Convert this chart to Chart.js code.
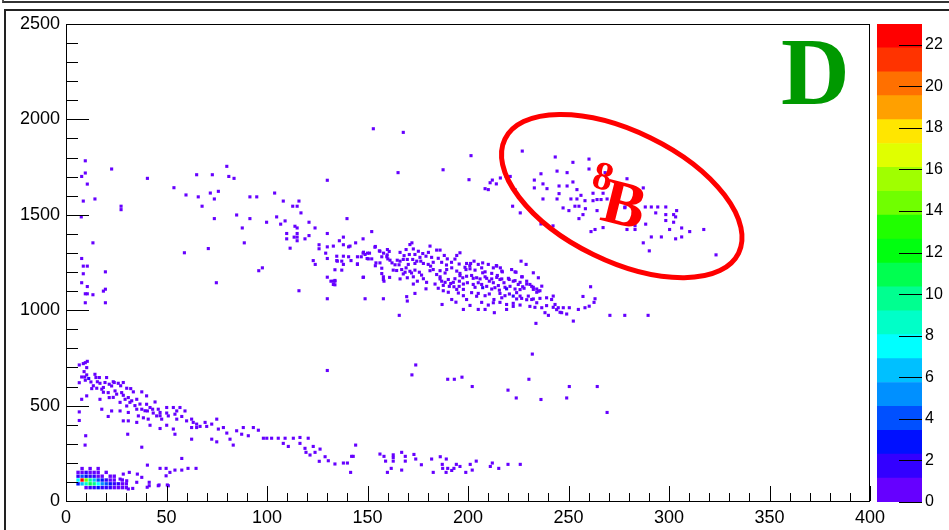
<!DOCTYPE html>
<html>
<head>
<meta charset="utf-8">
<script src="https://cdn.jsdelivr.net/npm/chart.js@4.4.0/dist/chart.umd.min.js"></script>
<style>
html, body { margin: 0; padding: 0; background: #fff; }
#wrap { position: relative; width: 949px; height: 530px; overflow: hidden; background: #fff; }
#topbar { position: absolute; left: 2px; top: -2px; width: 960px; height: 3px; border-left: 2px solid #555; border-bottom: 2px solid #333; }
#frame { position: absolute; left: 4px; top: 9px; width: 960px; height: 540px; border: 2px solid #222; }
#main { position: absolute; left: 0; top: 0; }
#pal { position: absolute; left: 870px; top: 0; }
</style>
</head>
<body>
<div id="wrap">
  <div id="topbar"></div>
  <div id="frame"></div>
  <canvas id="main" width="949" height="530"></canvas>
  <canvas id="pal" width="79" height="530"></canvas>
</div>
<script>
// single hits (1 count each)
const upperBand = [
  [9.6,1783],[22.7,1740],[7.8,1701],[9.6,1719],[40.5,1691],[65,1710],[72.8,1710],[80,1754],[81,1701],[83.6,1691],
  [130,1681],[10.6,1661],[53.7,1642],[59.7,1604],[65.8,1594],[71.8,1614],[75.8,1623],[73.8,1583],[91.5,1594],[94.9,1594],
  [103.8,1614],[108.1,1572],[112.8,1545],[115,1545],[115.9,1572],[8.6,1572],[14.4,1583],[27.4,1545],[27.4,1527],[67.7,1545],
  [7.6,1489],[73.8,1480],[84.9,1499],[91.5,1480],[99.8,1461],[87.7,1431],[104.8,1489],[109,1468],[106.8,1451],[116.9,1510],
  [113.9,1440],[115,1431],[120.9,1461],[123.9,1431],[109.8,1402],[115,1402],[113.5,1383],[115,1383],[109.8,1374],[115,1364],
  [120.9,1391],[118.9,1374],[130,1402],[139.8,1480],[138,1383],[136,1364],[144.1,1353],[138,1343],[140.6,1332],[125.9,1343],
  [130,1332],[125.9,1322],[111.5,1325],[129.2,1299],[130,1271],[123,1260],[124,1240],[134.7,1260],[140.6,1280],[145,1280],
  [141.8,1260],[138,1240],[145,1240],[133.8,1212],[130,1173],[131.8,1152],[133.8,1152],[133.8,1133],[130,1060],[115.9,1102],
  [95.9,1207],[97.7,1222],[74.8,1144],[70.8,1323],[58.9,1301],[88.7,1353],[13.4,1353],[7.8,1271],[8.6,1231],[10.6,1231],
  [8.6,1191],[19.6,1201],[7.8,1144],[10.6,1124],[9.6,1086],[10.6,1086],[13.4,1081],[18.6,1100],[19.6,1110],[9.6,1039],
  [19.6,1039],[152.9,1951],[167.8,1932],[165.2,1721],[147.8,1374],[152.1,1412],[187.6,1736],[200.5,1684],[201.5,1810],[211,1668],
  [146.9,1280],[147.8,1299],[150,1299],[151,1299],[149.8,1271],[153.9,1334],[153.9,1233],[155.9,1311],[158,1299],[160.1,1269],
  [160.8,1308],[159.8,1290],[157.1,1220],[158.2,1152],[147.8,1172],[161,1172],[133,1152]
];
const mainBand = [
  [133,1336],[141.3,1336],[134.7,1283],[138,1283],[135,1257],[137.2,1257],[137.2,1210],[145,1243],[148,1304],[148.8,1292],
  [150.4,1269],[152.1,1269],[148,1173],[133.8,1156],[133,1135],[148.8,1060],[157.9,1060],[153.7,1330],[156.2,1309],[159.9,1318],
  [157.1,1280],[159.6,1280],[154.2,1248],[156.2,1248],[157.1,1192],[157.9,1175],[157.9,1161],[161.2,1262],[162.2,1248],[164.8,1262],
  [166.2,1257],[167.8,1266],[163.7,1238],[165.7,1238],[162.8,1210],[164.5,1208],[167,1213],[169.2,1222],[171.1,1344],[172.1,1353],
  [169.2,1318],[170.8,1292],[173.6,1292],[175.3,1309],[177.5,1297],[179.1,1283],[169.8,1266],[172.5,1266],[174.5,1257],[176.5,1257],
  [170.3,1240],[173.6,1245],[177.8,1245],[180.2,1240],[168.7,1199],[171.1,1204],[173.6,1210],[175.8,1199],[169.8,1170],[172.8,1175],
  [174.8,1152],[177.8,1165],[179.1,1112],[169.5,1071],[169.8,1048],[173.6,1088],[165.8,973],[181.1,1336],[184.4,1315],[186.1,1315],
  [188.2,1287],[189.7,1269],[196,1301],[194.4,1287],[181.4,1231],[182.7,1213],[184.4,1187],[186.1,1175],[186.9,1152],[187.7,1130],
  [190.2,1161],[191.4,1140],[193,1123],[189.4,1213],[191.9,1222],[194.4,1205],[196,1193],[193.5,1165],[195.7,1152],[197.4,1170],
  [194.4,1109],[197.7,1109],[191.9,1056],[197.7,1004],[187.1,1030],[194,1042],[199.3,1245],[201.3,1245],[203,1257],[199,1213],
  [201,1217],[203.5,1210],[205.1,1240],[207.3,1248],[199.3,1178],[201.8,1182],[204.3,1170],[207.3,1196],[208.5,1175],[199.7,1144],
  [202.6,1135],[205.1,1144],[206.8,1135],[201.8,1092],[205.1,1088],[199.3,1056],[205.1,1004],[208.5,1004],[201,1025],[210.1,1240],
  [212.6,1222],[214.3,1231],[216.8,1205],[211.8,1193],[214.6,1182],[210.6,1152],[212.6,1144],[215.9,1161],[217.9,1144],[213.4,1118],
  [215.6,1105],[212.9,1056],[216.8,1065],[212.6,1039],[219.2,1030],[222.5,1036],[219.2,1004],[213.1,987],[221.7,1213],[223.9,1199],
  [220.5,1161],[222.5,1152],[225,1135],[227.2,1123],[224.2,1092],[225.9,1074],[226.7,1175],[229.2,1152],[230.8,1135],[232.5,1109],
  [235,1100],[230,1074],[231.7,1056],[234.2,1039],[236.7,1013],[239.1,1065],[241.6,1056],[243.3,1030],[244.9,1013],[246.6,987],
  [247.4,1013],[238.3,987],[240,973],[233.8,931],[252.4,943],[250.4,1013],[254.9,1004],[258.2,1013],[260.3,1021],[263.2,1060],
  [261,1123],[226.4,1257],[228.9,1240],[232.5,1196],[235,1170],[236.7,1126],[242.4,1074],[206.8,1222],[208.5,1201],[214.1,1234],
  [216.1,1222],[217.1,1201],[223.4,1201],[227,1175],[270.6,973],[278,973],[289.6,973],[257.2,1072],[262.7,1041],
  [202.6,1167],[206,1164],[209.3,1167],[211.8,1164],[214.3,1172],[216.8,1164],[220.1,1167],[223.4,1155],[225.9,1146],[229.2,1137],
  [231.7,1125],[234.2,1111],[235.8,1102],[203.5,1120],[209.3,1125],[211.8,1111],[215.1,1129],[218.4,1120],[220.9,1125],[223.4,1111],
  [225.9,1108],[227.9,1115],[232.5,1120],[234.2,1094],[204.3,1073],[208.5,1076],[210.6,1085],[215.9,1088],[218.4,1076],[220.6,1085],
  [224.2,1059],[226.7,1062],[229.2,1055],[232.5,1059],[235.8,1062],[206.8,1041],[210.1,1027],[215.9,1041],[222.5,1020],[225.9,1027],
  [230.8,1020],[233.3,1015],[239.1,1024],[242.4,1015],[244.1,1003],[245.8,989],[249.1,980],
  [182.7,1251],[185.2,1272],[186.9,1251],[189.3,1237],[191.8,1251],[193.5,1268],[195.6,1242],[198.5,1225],[200.9,1233],[186.1,1164],
  [188.6,1146],[190.7,1125],[192.7,1146],[195.6,1125],[197.7,1137],[183.6,1137],[185.2,1115],[187.7,1102],[190.2,1094],[195.2,1090],
  [197.7,1076],[186.1,1207],[188.6,1195],[196,1181],[166.2,1303],[168.2,1286],[172.8,1321],[176.1,1277],[180.3,1303],[181.9,1277],
  [167.8,1190],[171.9,1195],[176.9,1184],[181.1,1207],[166.2,1164],[172.8,1137],[179.4,1146]
];
const boronGroup = [
  [227,1834],[243.4,1803],[252.2,1775],[260.2,1792],[260.2,1740],[236.3,1715],[244.3,1729],[249.3,1721],[233,1682],[252.2,1672],
  [237.3,1662],[245.3,1651],[249.3,1651],[239.3,1637],[233,1641],[245.3,1611],[254.2,1632],[256.2,1602],[237.3,1583],[244.3,1583],
  [251.2,1583],[254.2,1583],[258.2,1574],[262.2,1574],[264.2,1580],[266.2,1580],[269.2,1583],[262.2,1613],[267.2,1613],[268.2,1721],
  [279.1,1689],[287.2,1641],[247.3,1536],[250.2,1522],[253.2,1545],[255.2,1545],[258.4,1532],[257.2,1501],[255.2,1480],[264.2,1522],
  [261.2,1412],[263.2,1423],[267.2,1433],[242.3,1442],[236.3,1452],[222.2,1545],[226,1510],[223.4,1632],[208.5,1637],[210.1,1632],
  [212.1,1682],[214.1,1662],[216.1,1693],[219,1701],[221,1701],[278.1,1541],[288.2,1541],[291.2,1541],[294.4,1541],[298.4,1541],
  [293.4,1510],[298.4,1501],[303.8,1522],[302.3,1501],[303.3,1489],[298.4,1470],[302.3,1461],[288.4,1451],[279.1,1423],[283.1,1423],
  [283.1,1443],[300.3,1423],[306.3,1431],[310.3,1412],[317.3,1423],[303.3,1374],[306.3,1384],[296.2,1384],[291.2,1384],[287.2,1353],
  [290.2,1311],[323.4,1290],[278,1537]
];
const middleHits = [
  [130,684],[174,713],[172.1,661],[189.9,638],[193.2,638],[197,649],[202.1,600],[232,770],[230.3,638],[219.9,581],
  [224,540],[236.3,532],[249.1,540],[250.4,600],[264.3,600],[269.2,464]
];
const lowerBand = [
  [6.6,713],[8.6,720],[9.6,725],[10.6,732],[9,678],[7.8,650],[9.3,650],[10.3,661],[9.6,633],[12.4,624],
  [14.4,664],[14.9,647],[16.6,647],[16.9,617],[12.8,589],[15.3,591],[17.8,586],[18.6,595],[20.2,647],[19.4,621],
  [21.5,612],[22.7,603],[24,621],[26,617],[28.5,621],[21,568],[24.4,577],[25.2,560],[27.7,568],[28.5,554],
  [32.2,589],[33.5,572],[10.3,551],[7.8,533],[16.9,533],[21.5,542],[29.4,533],[31,542],[32.7,525],[35.2,533],
  [37.7,572],[40.1,551],[17.8,481],[22.7,472],[21,443],[26.9,472],[30.2,498],[31,464],[35.2,481],[37.7,481],
  [28.5,420],[31,420],[35.2,412],[36,446],[38.5,436],[40.1,507],[41.8,490],[44.3,519],[40.5,472],[43.1,481],
  [45.9,481],[46.8,464],[50.1,490],[53.4,490],[55.1,472],[56.7,490],[59.2,472],[40.9,429],[45.1,446],[47.6,429],
  [50.9,446],[54.2,455],[55.1,429],[57.6,443],[60,420],[41.8,397],[46.8,380],[50.1,397],[54.2,350],[53.4,377],
  [62.5,429],[63.3,412],[65,403],[66.7,391],[69.2,412],[70,391],[72.5,403],[75,429],[75.8,377],[62.5,385],
  [62.5,324],[65,385],[72.5,324],[75,310],[78.3,385],[80,356],[81.6,324],[83.2,293],[84.9,368],[87.4,350],
  [88.2,385],[90.7,342],[93.2,385],[95.7,371],[98.2,329],[99.9,329],[102.3,329],[105.6,329],[109,329],[113.1,329],
  [116.4,333],[120.5,329],[108.1,302],[110.6,286],[116.4,302],[118.9,276],[123,286],[126.4,272],[119.4,255],[121.4,241],
  [123.9,255],[128.9,232],[130.5,211],[126,208],[133.8,194],[138,199],[140,199],[142.1,234],[142.9,234],[144.1,293],
  [141.6,150],[9.5,293],[37.7,282],[30.7,350],[6.6,422],[6.6,467],[9.8,342],[10.3,699],[6.6,620],
  [156.2,246],[158.2,234],[162.8,242],[162.8,228],[167,255],[168.8,234],[173.1,244],[174,220],[181.9,220],[186.2,232],
  [189.2,220],[187.2,192],[194.2,192],[196,181],[201.1,192],[204.1,209],[212.1,199],[219.9,192],[226,192],[159,209],
  [162.8,209],[168.8,209],[176.8,190],[161.8,171],[167,162],[159.9,150],[182.7,150],[187.4,171],[189.9,171],[191.9,160],
  [193,171],[189.1,150],[198.9,150],[202.1,162],[211.1,181],[215.3,171],
  [13.6,604],[15.6,625],[23.5,625],[27.2,604],[30.2,591],[18.6,570],[23.5,543],[26.9,517],[31.8,517],[34.3,500],
  [36.8,508],[39.3,473],[43.4,461],[46.8,447],[50.1,461]
];
const lowHits = [
  [57.6,223],[40.5,188],[46.8,171],[49.8,171],[51.7,150],[54.2,162],[57.6,162],[60.7,171],[64.7,171],[49.8,132],
  [50.4,84],[46.3,84],[41.4,80],[28.5,141],[31.5,150],[35.5,141],[26.9,115],[30.2,106],[35.2,98],[37.7,124],
  [31,63],[33.2,66],[41.4,98],[40.4,72],[45.9,80],[50.9,80]
];
// hits with 2 counts
const doubleHits = [[207.3,1118],[219.2,1112],[222.5,1074],[11.3,642]];

// dense cluster near the origin: bin centres and counts
const clusterX = [
  8,12,16,
  6,8,10,12,14,16,20,
  6,8,10,12,14,16,18,22,24,
  6,8,10,12,14,16,18,20,22,24,28,
  6,8,10,12,14,16,18,20,22,24,26,28,30,
  10,12,14,16,18,20,22,24,26,28,30
];
const clusterY = [
  170,170,170,
  150,150,150,150,150,150,150,
  130,130,130,130,130,130,130,130,130,
  110,110,110,110,110,110,110,110,110,110,110,
  90,90,90,90,90,90,90,90,90,90,90,90,90,
  70,70,70,70,70,70,70,70,70,70,70
];
const clusterN = [
  1,1,1,
  1,1,2,1,1,1,1,
  2,4,3,2,2,1,1,1,1,
  8,22,14,10,6,4,3,2,1,1,1,
  3,6,9,11,10,7,5,4,3,2,2,1,1,
  1,2,2,3,2,2,2,1,1,1,1
];

// colour palette (z axis), bottom to top
const zMax = 23;
const palette = ['#6600ff','#3300ff','#0010ff','#0050ff','#0090ff','#00c0ff','#00ffff','#00ffc8','#00ff90','#00ff50',
  '#00ff10','#20ff00','#70ff00','#a0ff00','#e0ff00','#ffe600','#ffa000','#ff7000','#ff3300','#ff0000'];
const xTicksMajor = 50, yTicksMajor = 500;

function levelColor(n) {
  let k = Math.floor(n / (zMax / palette.length));
  if (k > palette.length - 1) k = palette.length - 1;
  return palette[k];
}

const singles = [].concat(upperBand, mainBand, boronGroup, middleHits, lowerBand, lowHits);
const hits = singles.map(p => ({x: p[0], y: p[1], n: 1}))
  .concat(doubleHits.map(p => ({x: p[0], y: p[1], n: 2})));
const cells = clusterX.map((x, i) => ({x: x, y: clusterY[i], n: clusterN[i]}));

const tickFont = {family: '"Liberation Sans", Arial, sans-serif', size: 18};

// ROOT style frame and inward ticks
const rootFrame = {
  id: 'rootFrame',
  afterDraw(chart) {
    const {ctx, chartArea: a, scales: {x, y}} = chart;
    ctx.save();
    ctx.strokeStyle = '#000';
    ctx.lineWidth = 1;
    ctx.strokeRect(a.left + 0.5, a.top + 0.5, a.right - a.left - 1, a.bottom - a.top);
    ctx.beginPath();
    x.ticks.forEach(t => {
      const px = Math.round(x.getPixelForValue(t.value)) + 0.5;
      const len = t.value % xTicksMajor === 0 ? 15 : 8;
      ctx.moveTo(px, a.bottom);
      ctx.lineTo(px, a.bottom - len);
    });
    y.ticks.forEach(t => {
      const py = Math.round(y.getPixelForValue(t.value)) + 0.5;
      const len = t.value % yTicksMajor === 0 ? 23 : 12;
      ctx.moveTo(a.left, py);
      ctx.lineTo(a.left + len, py);
    });
    ctx.stroke();
    ctx.restore();
  }
};

// pad labels: "D", the ellipse and 8B
const annotations = {
  id: 'annotations',
  afterDatasetsDraw(chart) {
    const {ctx, scales: {x, y}} = chart;
    ctx.save();
    ctx.fillStyle = '#009900';
    ctx.font = 'bold 95px "Liberation Serif", "Times New Roman", serif';
    ctx.textBaseline = 'alphabetic';
    ctx.fillText('D', 781, 103.5);

    ctx.strokeStyle = '#ff0000';
    ctx.lineWidth = 5;
    ctx.beginPath();
    ctx.ellipse(x.getPixelForValue(276.5), y.getPixelForValue(1598), 130, 65, 26 * Math.PI / 180, 0, 2 * Math.PI);
    ctx.stroke();

    ctx.fillStyle = '#ff0000';
    ctx.translate(616, 199);
    ctx.rotate(14 * Math.PI / 180);
    ctx.font = 'bold 40px "Liberation Serif", "Times New Roman", serif';
    ctx.fillText('8', -28, -6);
    ctx.font = 'bold 64px "Liberation Serif", "Times New Roman", serif';
    ctx.fillText('B', -12, 24);
    ctx.restore();
  }
};

new Chart(document.getElementById('main'), {
  type: 'scatter',
  data: {
    datasets: [
      {
        data: hits,
        pointStyle: 'rect',
        pointRadius: 2.2,
        borderWidth: 0,
        backgroundColor: c => levelColor(c.raw ? c.raw.n : 1)
      },
      {
        data: cells,
        pointStyle: 'rect',
        pointRadius: 2.4,
        borderWidth: 0,
        backgroundColor: c => levelColor(c.raw ? c.raw.n : 1)
      }
    ]
  },
  options: {
    responsive: false,
    animation: false,
    events: [],
    layout: {padding: {left: 0, top: 24, right: 79, bottom: 0}},
    plugins: {legend: {display: false}, tooltip: {enabled: false}},
    scales: {
      x: {
        type: 'linear', min: 0, max: 400,
        grid: {display: false, drawTicks: false},
        border: {display: false},
        ticks: {stepSize: 10, autoSkip: false, maxRotation: 0, padding: 6, color: '#000', font: tickFont,
          callback: v => v % xTicksMajor === 0 ? v : ''},
        afterFit: s => { s.height = 29; }
      },
      y: {
        type: 'linear', min: 0, max: 2500,
        grid: {display: false, drawTicks: false},
        border: {display: false},
        ticks: {stepSize: 100, autoSkip: false, padding: 6, color: '#000', font: tickFont,
          callback: v => v % yTicksMajor === 0 ? v : ''},
        afterFit: s => { s.width = 66; }
      }
    }
  },
  plugins: [rootFrame, annotations]
});

// palette bar ticks drawn into the bar
const palTicks = {
  id: 'palTicks',
  afterDatasetsDraw(chart) {
    const {ctx, chartArea: a, scales: {y}} = chart;
    ctx.save();
    ctx.strokeStyle = '#000';
    ctx.lineWidth = 1;
    ctx.beginPath();
    y.ticks.forEach(t => {
      const py = Math.round(y.getPixelForValue(t.value)) + 0.5;
      ctx.moveTo(a.right - 23, py);
      ctx.lineTo(a.right, py);
    });
    ctx.stroke();
    ctx.restore();
  }
};

new Chart(document.getElementById('pal'), {
  type: 'bar',
  data: {
    labels: [''],
    datasets: palette.map((c, i) => ({
      data: [[i * zMax / palette.length, (i + 1) * zMax / palette.length]],
      backgroundColor: c,
      borderWidth: 0,
      grouped: false,
      barPercentage: 1,
      categoryPercentage: 1
    }))
  },
  options: {
    responsive: false,
    animation: false,
    events: [],
    layout: {padding: {left: 7, top: 24, right: 0, bottom: 28}},
    plugins: {legend: {display: false}, tooltip: {enabled: false}},
    scales: {
      x: {display: false},
      y: {
        position: 'right', min: 0, max: zMax,
        grid: {display: false, drawTicks: false},
        border: {display: false},
        ticks: {stepSize: 2, includeBounds: false, padding: 3, color: '#000',
          font: {family: '"Liberation Sans", Arial, sans-serif', size: 16}},
        afterBuildTicks: s => { s.ticks = s.ticks.filter(t => t.value % 2 === 0); },
        afterFit: s => { s.width = 27; }
      }
    }
  },
  plugins: [palTicks]
});
</script>
</body>
</html>
